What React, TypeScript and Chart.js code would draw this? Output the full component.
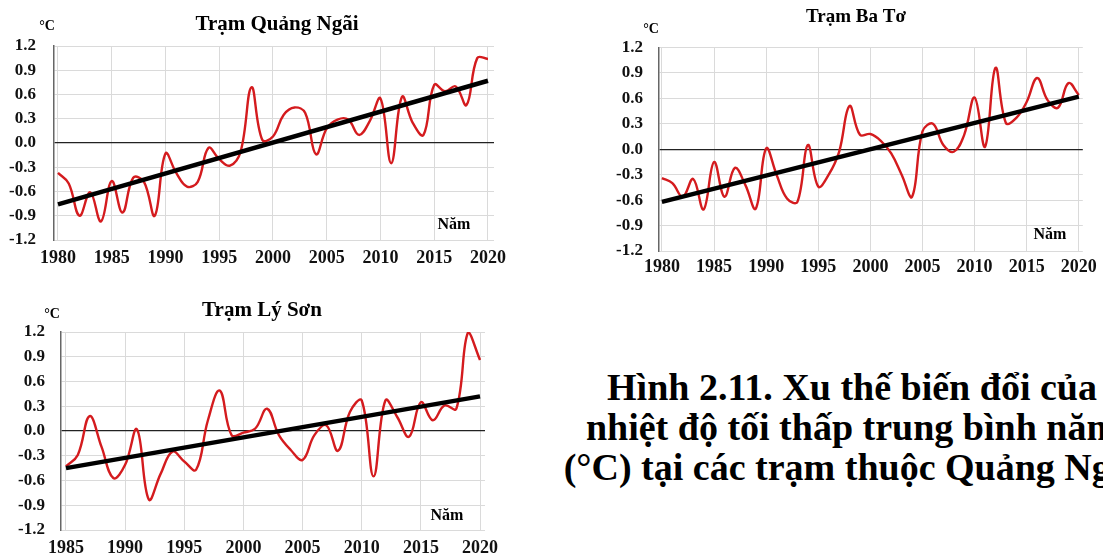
import React, { useEffect, useRef } from "react";
import { Chart, registerables } from "chart.js";

Chart.register(...registerables);

// ---------- DATA ----------
const yearsQN = [
  1980, 1981, 1982, 1983, 1984, 1985, 1986, 1987, 1988, 1989,
  1990, 1991, 1992, 1993, 1994, 1995, 1996, 1997, 1998, 1999,
  2000, 2001, 2002, 2003, 2004, 2005, 2006, 2007, 2008, 2009,
  2010, 2011, 2012, 2013, 2014, 2015, 2016, 2017, 2018, 2019, 2020,
];
const tempQN = [
  -0.37, -0.5, -0.9, -0.61, -0.97, -0.47, -0.86, -0.43, -0.48, -0.9,
  -0.13, -0.37, -0.54, -0.48, -0.06, -0.2, -0.28, -0.1, 0.69, 0.04,
  0.08, 0.35, 0.44, 0.37, -0.14, 0.18, 0.29, 0.29, 0.1, 0.27,
  0.55, -0.25, 0.57, 0.25, 0.1, 0.72, 0.64, 0.7, 0.47, 1.05, 1.04,
];
const trendYearsQN = [1980, 2020];
const trendQN = [-0.76, 0.77];

const yearsBT = [
  1980, 1981, 1982, 1983, 1984, 1985, 1986, 1987, 1988, 1989,
  1990, 1991, 1992, 1993, 1994, 1995, 1996, 1997, 1998, 1999,
  2000, 2001, 2002, 2003, 2004, 2005, 2006, 2007, 2008, 2009,
  2010, 2011, 2012, 2013, 2014, 2015, 2016, 2017, 2018, 2019, 2020,
];
const tempBT = [
  -0.34, -0.4, -0.56, -0.35, -0.71, -0.15, -0.56, -0.22, -0.42, -0.7,
  0.01, -0.3, -0.58, -0.62, 0.05, -0.44, -0.3, -0.03, 0.51, 0.17,
  0.18, 0.1, -0.05, -0.3, -0.56, 0.21, 0.3, 0.05, -0.03, 0.17,
  0.61, 0.03, 0.96, 0.31, 0.37, 0.56, 0.84, 0.58, 0.49, 0.78, 0.64,
];
const trendYearsBT = [1980, 2020];
const trendBT = [-0.62, 0.62];

const yearsLS = [
  1985, 1986, 1987, 1988, 1989, 1990, 1991, 1992, 1993, 1994,
  1995, 1996, 1997, 1998, 1999, 2000, 2001, 2002, 2003, 2004,
  2005, 2006, 2007, 2008, 2009, 2010, 2011, 2012, 2013, 2014,
  2015, 2016, 2017, 2018, 2019, 2020,
];
const tempLS = [
  -0.43, -0.29, 0.18, -0.19, -0.57, -0.41, 0.02, -0.83, -0.52, -0.25,
  -0.37, -0.47, 0.13, 0.49, -0.05, -0.02, 0.03, 0.27, -0.05, -0.23,
  -0.35, -0.05, 0.07, -0.24, 0.23, 0.37, -0.55, 0.37, 0.17, -0.07,
  0.35, 0.13, 0.31, 0.27, 1.2, 0.86,
];
const trendYearsLS = [1985, 2020];
const trendLS = [-0.45, 0.42];

const yTicks = [-1.2, -0.9, -0.6, -0.3, 0, 0.3, 0.6, 0.9, 1.2];
const xTicks1980 = [1980, 1985, 1990, 1995, 2000, 2005, 2010, 2015, 2020];
const xTicks1985 = [1985, 1990, 1995, 2000, 2005, 2010, 2015, 2020];

const titleQN = "Trạm Quảng Ngãi";
const titleBT = "Trạm Ba Tơ";
const titleLS = "Trạm Lý Sơn";
const unitLabel = "°C";
const xAxisLabel = "Năm";
const captionLines = [
  "Hình 2.11. Xu thế biến đổi của",
  "nhiệt độ tối thấp trung bình năm",
  "(°C) tại các trạm thuộc Quảng Ngãi",
];

// ---------- STYLE ----------
const SERIF = '"Liberation Serif", "Times New Roman", Times, serif';
const RED = "#d41b1e";

type TextItem = { text: string; x: number; y: number; size: number };

type PanelSpec = {
  left: number;
  top: number;
  width: number;
  height: number;
  years: number[];
  values: number[];
  trendYears: number[];
  trendValues: number[];
  xTicks: number[];
  xMin: number;
  xMax: number;
  yWidth: number;
  xHeight: number;
  padTop: number;
  padRight: number;
  yPad: number;
  xPad: number;
  texts: TextItem[];
};

function ChartPanel({ spec }: { spec: PanelSpec }) {
  const ref = useRef<HTMLCanvasElement | null>(null);
  useEffect(() => {
    if (!ref.current) return;
    const textPlugin = {
      id: "freeText",
      afterDraw(chart: any) {
        const ctx = chart.ctx;
        spec.texts.forEach((t) => {
          ctx.save();
          ctx.font = `bold ${t.size}px ${SERIF}`;
          ctx.fillStyle = "#000";
          ctx.textAlign = "center";
          ctx.textBaseline = "middle";
          ctx.fillText(t.text, t.x, t.y);
          ctx.restore();
        });
      },
    };
    const chart = new Chart(ref.current, {
      type: "line",
      data: {
        datasets: [
          {
            data: spec.trendYears.map((x, i) => ({ x, y: spec.trendValues[i] })),
            borderColor: "#000",
            borderWidth: 4.5,
            pointRadius: 0,
            tension: 0,
            borderCapStyle: "butt",
          },
          {
            data: spec.years.map((x, i) => ({ x, y: spec.values[i] })),
            borderColor: RED,
            borderWidth: 2.4,
            pointRadius: 0,
            tension: 0.4,
          },
        ],
      },
      options: {
        animation: false,
        responsive: false,
        devicePixelRatio: 1,
        layout: {
          padding: { top: spec.padTop, right: spec.padRight, left: 0, bottom: 0 },
        },
        plugins: {
          legend: { display: false },
          title: { display: false },
          tooltip: { enabled: false },
        },
        scales: {
          x: {
            type: "linear",
            min: spec.xMin,
            max: spec.xMax,
            afterBuildTicks: (scale: any) => {
              scale.ticks = spec.xTicks.map((v) => ({ value: v }));
            },
            afterFit: (scale: any) => {
              scale.height = spec.xHeight;
            },
            ticks: {
              autoSkip: false,
              maxRotation: 0,
              padding: spec.xPad,
              color: "#111",
              font: { family: SERIF, size: 18, weight: "bold" },
              callback: (v: any) => String(v),
            },
            grid: { color: "#dadada", lineWidth: 1, drawTicks: false },
            border: { display: false },
          },
          y: {
            type: "linear",
            min: -1.2,
            max: 1.2,
            afterBuildTicks: (scale: any) => {
              scale.ticks = yTicks.map((v) => ({ value: v }));
            },
            afterFit: (scale: any) => {
              scale.width = spec.yWidth;
            },
            ticks: {
              padding: spec.yPad,
              color: "#111",
              font: { family: SERIF, size: 17, weight: "bold" },
              callback: (v: any) => (Math.abs(Number(v)) < 1e-9 ? "0.0" : Number(v).toFixed(1)),
            },
            grid: {
              drawTicks: false,
              color: (c: any) =>
                c.tick && Math.abs(c.tick.value) < 1e-9 ? "#222" : "#dadada",
              lineWidth: (c: any) => (c.tick && Math.abs(c.tick.value) < 1e-9 ? 1.3 : 1),
            },
            border: { display: true, color: "#666", width: 1.5 },
          },
        },
      } as any,
      plugins: [textPlugin],
    });
    return () => chart.destroy();
  }, [spec]);
  return (
    <canvas
      ref={ref}
      width={spec.width}
      height={spec.height}
      style={{
        position: "absolute",
        left: spec.left,
        top: spec.top,
        width: spec.width,
        height: spec.height,
      }}
    />
  );
}

const specQN: PanelSpec = {
  left: 0,
  top: 0,
  width: 520,
  height: 275,
  years: yearsQN,
  values: tempQN,
  trendYears: trendYearsQN,
  trendValues: trendQN,
  xTicks: xTicks1980,
  xMin: 1979.63,
  xMax: 2020.56,
  yWidth: 54,
  xHeight: 35,
  padTop: 46,
  padRight: 26,
  yPad: 18,
  xPad: 8,
  texts: [
    { text: titleQN, x: 277, y: 25, size: 21 },
    { text: unitLabel, x: 47, y: 26, size: 14 },
    { text: xAxisLabel, x: 454, y: 225, size: 16 },
  ],
};

const specBT: PanelSpec = {
  left: 600,
  top: 0,
  width: 503,
  height: 285,
  years: yearsBT,
  values: tempBT,
  trendYears: trendYearsBT,
  trendValues: trendBT,
  xTicks: xTicks1980,
  xMin: 1979.72,
  xMax: 2020.38,
  yWidth: 59,
  xHeight: 34,
  padTop: 47.5,
  padRight: 16,
  yPad: 16,
  xPad: 6,
  texts: [
    { text: titleBT, x: 256, y: 17, size: 19 },
    { text: unitLabel, x: 51, y: 29, size: 14 },
    { text: xAxisLabel, x: 450, y: 235, size: 16 },
  ],
};

const specLS: PanelSpec = {
  left: 0,
  top: 290,
  width: 520,
  height: 267,
  years: yearsLS,
  values: tempLS,
  trendYears: trendYearsLS,
  trendValues: trendLS,
  xTicks: xTicks1985,
  xMin: 1984.58,
  xMax: 2020.42,
  yWidth: 61,
  xHeight: 27,
  padTop: 42,
  padRight: 35,
  yPad: 16,
  xPad: 8,
  texts: [
    { text: titleLS, x: 262, y: 21, size: 21 },
    { text: unitLabel, x: 52, y: 24, size: 14 },
    { text: xAxisLabel, x: 447, y: 226, size: 16 },
  ],
};

export default function App() {
  return (
    <div
      style={{
        position: "absolute",
        left: 0,
        top: 0,
        width: 1103,
        height: 557,
        overflow: "hidden",
        background: "#fff",
      }}
    >
      <ChartPanel spec={specQN} />
      <ChartPanel spec={specBT} />
      <ChartPanel spec={specLS} />
      <div
        style={{
          position: "absolute",
          left: 552,
          top: 367,
          width: 600,
          textAlign: "center",
          fontFamily: SERIF,
          fontWeight: "bold",
          fontSize: 38,
          lineHeight: "40px",
          color: "#000",
          whiteSpace: "nowrap",
        }}
      >
        {captionLines.map((l, i) => (
          <div key={i}>{l}</div>
        ))}
      </div>
    </div>
  );
}
